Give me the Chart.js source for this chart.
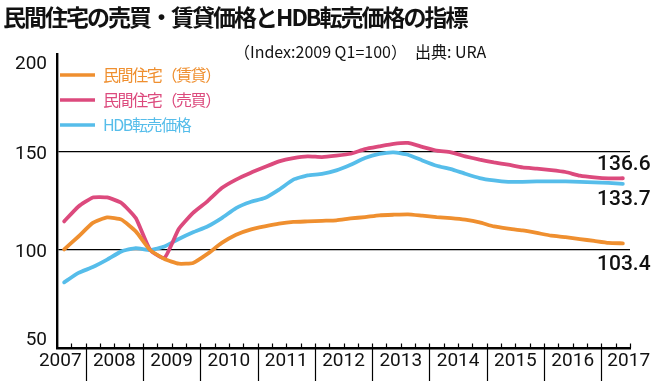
<!DOCTYPE html>
<html>
<head>
<meta charset="utf-8">
<script src="https://cdn.jsdelivr.net/npm/chart.js@4"></script>
<style>
  html, body { margin: 0; padding: 0; background: #fff; }
  #wrap { width: 660px; height: 384px; }
</style>
</head>
<body>
<div id="wrap"><canvas id="chart" width="660" height="384"></canvas></div>
<script>
const TITLE = "民間住宅の売買・賃貸価格とHDB転売価格の指標";
const SUBTITLE = "（Index:2009 Q1=100）　出典: URA";

// quarters 2007 Q3 .. 2017 Q2
const quarters = [
    "2007Q3", "2007Q4",
    "2008Q1", "2008Q2", "2008Q3", "2008Q4",
    "2009Q1", "2009Q2", "2009Q3", "2009Q4",
    "2010Q1", "2010Q2", "2010Q3", "2010Q4",
    "2011Q1", "2011Q2", "2011Q3", "2011Q4",
    "2012Q1", "2012Q2", "2012Q3", "2012Q4",
    "2013Q1", "2013Q2", "2013Q3", "2013Q4",
    "2014Q1", "2014Q2", "2014Q3", "2014Q4",
    "2015Q1", "2015Q2", "2015Q3", "2015Q4",
    "2016Q1", "2016Q2", "2016Q3", "2016Q4",
    "2017Q1", "2017Q2",
];
const years = ["2007", "2008", "2009", "2010", "2011", "2012", "2013", "2014", "2015", "2016", "2017"];
const yTicks = [200, 150, 100, 50];

const rentIndex = [
    100.3, 106.9, 113.8, 116.6, 115.5, 109.5, 100.0, 95.4, 93.0, 93.4,
    98.0, 103.6, 107.8, 110.4, 112.0, 113.4, 114.3, 114.6, 114.9, 115.1,
    116.1, 116.8, 117.7, 118.0, 118.2, 117.5, 116.8, 116.3, 115.5, 114.1,
    112.0, 110.9, 110.0, 108.7, 107.3, 106.6, 105.6, 104.6, 103.6, 103.4,
];
const saleIndex = [
    114.6, 122.2, 126.8, 126.8, 124.0, 116.3, 100.0, 95.9, 110.7, 118.9,
    124.8, 131.6, 135.9, 139.3, 142.3, 145.2, 146.9, 147.8, 147.4, 148.1,
    149.1, 151.5, 152.9, 154.2, 154.6, 152.6, 150.7, 149.8, 147.8, 146.1,
    144.7, 143.5, 142.1, 141.5, 140.8, 139.8, 137.9, 137.0, 136.5, 136.6,
];
const hdbIndex = [
    83.5, 88.3, 91.3, 95.1, 99.3, 101.0, 100.0, 101.8, 105.6, 109.0,
    112.0, 116.3, 121.4, 124.5, 126.5, 130.8, 135.9, 138.1, 138.8, 140.6,
    143.5, 146.9, 149.0, 149.8, 148.6, 145.7, 143.0, 141.3, 138.9, 136.7,
    135.5, 134.8, 134.8, 135.0, 135.0, 135.0, 134.8, 134.5, 134.2, 133.7,
];

const ORANGE = "#ef8f2f";
const PINK = "#dc4a7d";
const BLUE = "#56bdea";
const NUM_FONT = "Roboto, 'Liberation Sans', sans-serif";
const JP_FONT = "'Noto Sans CJK JP', 'Noto Sans', sans-serif";

// end-of-line labels: dataset index -> vertical nudge
const endLabelOffset = [21, -14, 16];

const decorPlugin = {
    id: "decor",
    afterDraw(chart) {
        const ctx = chart.ctx;
        const area = chart.chartArea;
        const xs = chart.scales.x;
        const ys = chart.scales.y;
        const cell = xs.getPixelForValue(1) - xs.getPixelForValue(0);
        const x0 = xs.getPixelForValue(0) - cell / 2;

        ctx.save();

        // title + subtitle
        ctx.fillStyle = "#111";
        ctx.textBaseline = "middle";
        ctx.textAlign = "left";
        ctx.font = "bold 23px " + JP_FONT;
        ctx.letterSpacing = "-2px";
        ctx.fillText(TITLE, 3, 17);
        ctx.font = "16px " + JP_FONT;
        ctx.letterSpacing = "0px";
        ctx.fillText(SUBTITLE, 234, 52);

        // quarter ticks and year separators
        ctx.strokeStyle = "#000";
        ctx.lineWidth = 1.2;
        for (let i = 1; i <= quarters.length; i++) {
            const bx = Math.round(x0 + i * cell) + 0.5;
            const major = i < quarters.length && quarters[i].endsWith("Q1");
            ctx.beginPath();
            ctx.moveTo(bx, area.bottom - 4.5);
            ctx.lineTo(bx, major ? area.bottom + 33 : area.bottom);
            ctx.stroke();
        }

        // year labels
        ctx.font = "19px " + NUM_FONT;
        ctx.fillStyle = "#111";
        ctx.textBaseline = "middle";
        const ly = area.bottom + 13;
        years.forEach((yr, k) => {
            const idx = quarters.findIndex((q) => q.startsWith(yr));
            const last = quarters.length - 1 - [...quarters].reverse().findIndex((q) => q.startsWith(yr));
            const left = x0 + idx * cell;
            const right = x0 + (last + 1) * cell;
            if (k === 0) {
                ctx.textAlign = "right";
                ctx.fillText(yr, right - 4, ly);
            } else if (k === years.length - 1) {
                ctx.textAlign = "left";
                ctx.fillText(yr, left + 6, ly);
            } else {
                ctx.textAlign = "center";
                ctx.fillText(yr, (left + right) / 2, ly);
            }
        });

        // y labels
        ctx.textAlign = "right";
        yTicks.forEach((v, k) => {
            let nudge = 2;
            if (k === 0) nudge = 10;
            if (k === yTicks.length - 1) nudge = -8;
            ctx.fillText(String(v), area.left - 10, ys.getPixelForValue(v) + nudge);
        });

        // legend
        chart.data.datasets.forEach((ds, i) => {
            const y = 75 + i * 25;
            ctx.strokeStyle = ds.borderColor;
            ctx.lineWidth = 3.5;
            ctx.beginPath();
            ctx.moveTo(60, y);
            ctx.lineTo(95, y);
            ctx.stroke();
            ctx.fillStyle = ds.borderColor;
            ctx.font = "16px " + JP_FONT;
            ctx.letterSpacing = "-1.4px";
            ctx.textAlign = "left";
            ctx.fillText(ds.label, 103, y);
        });
        ctx.letterSpacing = "0px";

        // end values
        ctx.font = "500 21px " + NUM_FONT;
        ctx.fillStyle = "#111";
        ctx.textAlign = "center";
        chart.data.datasets.forEach((ds, i) => {
            const n = ds.data.length - 1;
            const px = xs.getPixelForValue(n);
            const py = ys.getPixelForValue(ds.data[n]);
            ctx.fillText(ds.data[n].toFixed(1), px + 1, py + endLabelOffset[i]);
        });

        ctx.restore();
    },
};

new Chart(document.getElementById("chart"), {
    type: "line",
    data: {
        labels: quarters,
        datasets: [
            { label: "民間住宅（賃貸）", data: rentIndex, borderColor: ORANGE },
            { label: "民間住宅（売買）", data: saleIndex, borderColor: PINK },
            { label: "HDB転売価格", data: hdbIndex, borderColor: BLUE },
        ],
    },
    options: {
        responsive: false,
        animation: false,
        devicePixelRatio: 1,
        layout: { padding: { left: 57, right: 30, top: 54, bottom: 36 } },
        elements: {
            line: { borderWidth: 3.8, tension: 0.15, fill: false, borderCapStyle: "round", borderJoinStyle: "round" },
            point: { radius: 0, hoverRadius: 0 },
        },
        plugins: {
            legend: { display: false },
            title: { display: false },
            tooltip: { enabled: false },
        },
        scales: {
            x: {
                type: "category",
                offset: true,
                grid: { display: false, drawTicks: false },
                border: { display: true, color: "#000", width: 2.4 },
                ticks: { display: false },
                afterFit: (s) => { s.height = 0; },
            },
            y: {
                min: 50,
                max: 200,
                ticks: { display: false, stepSize: 50 },
                grid: {
                    drawTicks: false,
                    lineWidth: 1.3,
                    color: (c) => (c.tick && (c.tick.value === 100 || c.tick.value === 150) ? "#000" : "rgba(0,0,0,0)"),
                },
                border: { display: true, color: "#000", width: 2.4 },
                afterFit: (s) => { s.width = 0; },
            },
        },
    },
    plugins: [decorPlugin],
});
</script>
</body>
</html>
